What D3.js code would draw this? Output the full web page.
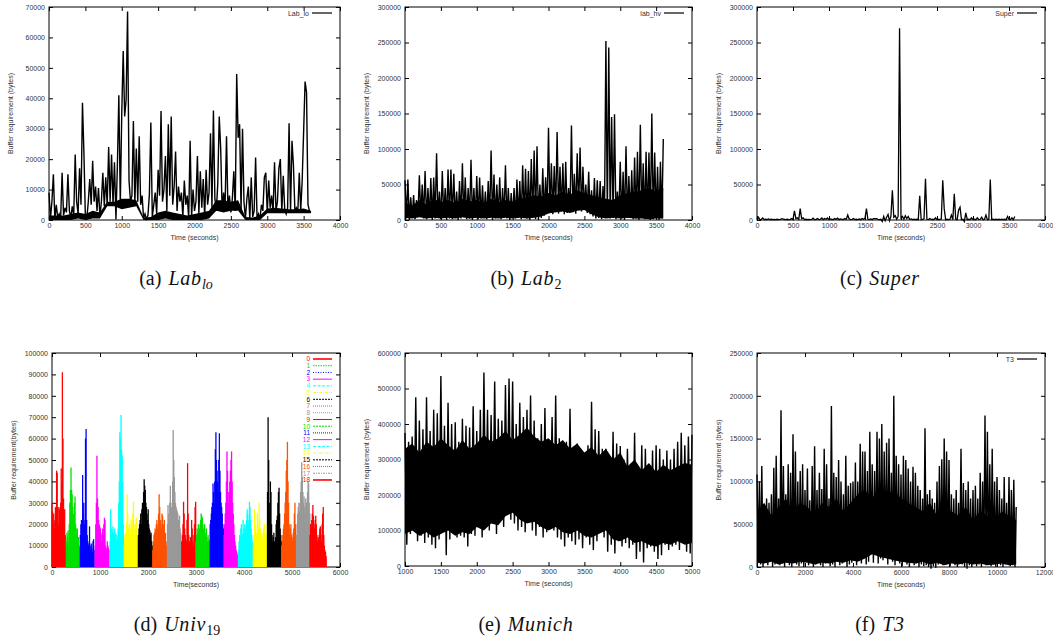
<!DOCTYPE html>
<html>
<head>
<meta charset="utf-8">
<script src="https://cdn.jsdelivr.net/npm/d3@7"></script>
<style>
  body { margin: 0; background: #fff; }
  text { font-family: "Liberation Sans", Arial, sans-serif; }
  .tick text { font-size: 7px; fill: #333; }
  .cap { font-family: "Liberation Serif", "Times New Roman", serif; font-size: 20px; fill: #111; }
</style>
</head>
<body>
<div id="chart"></div>
<script>
// ---- data ----
// (a) Lab_lo, one sample every 20 s from 0 s
var labLoValues = [9000, 500, 6000, 15000, 300, 5000, 800, 2000, 300, 15500,
  1500, 4000, 2500, 15000, 3000, 800, 4500, 1500, 21500, 6000,
  2000, 17000, 5000, 38500, 22000, 1000, 500, 6000, 13500, 5000,
  19500, 6000, 11000, 3000, 10500, 1000, 6000, 15500, 4500, 14000,
  5000, 24000, 6000, 21500, 5000, 19000, 200, 18000, 41000, 5000,
  35000, 55500, 34000, 39500, 68500, 13000, 6000, 8000, 32500, 5000,
  23500, 6000, 27500, 5000, 8000, 500, 2000, 300, 1500, 8500,
  32000, 1000, 5000, 9000, 2000, 16500, 8000, 35800, 6000, 10000,
  21000, 3000, 31500, 8000, 34000, 5000, 11000, 22500, 3000, 11000,
  6000, 9000, 1000, 13000, 5000, 8000, 500, 26000, 1000, 10000,
  3000, 6000, 21000, 2000, 16000, 4000, 13500, 1000, 16500, 5000,
  9000, 28500, 4000, 36000, 7000, 3000, 12000, 34000, 23500, 3000,
  9000, 4000, 27500, 3000, 8000, 2500, 7000, 16000, 3000, 48000,
  27000, 31500, 3000, 30000, 6000, 500, 7000, 11000, 300, 14000,
  1000, 3000, 20500, 500, 2000, 300, 5000, 3000, 14000, 15500,
  2500, 13000, 4000, 8000, 2500, 19000, 3000, 6000, 17000, 20000,
  2500, 14500, 3500, 2000, 4000, 31800, 2500, 26000, 18000, 3000,
  4000, 2500, 15500, 3000, 13000, 29000, 45500, 42000, 5000, 3000,
  2500];
// solid core of the trace, every 100 s from 0 s
var labLoBandTop = [1500, 1500, 1500, 2000, 2500, 2000, 3000, 2500, 6000, 6000,
  7000, 7000, 6500, 800, 1000, 2500, 3000, 2500, 2000, 1500,
  2000, 2500, 3000, 6500, 6500, 6000, 6500, 1000, 800, 1500,
  3800, 4000, 3800, 3500, 3500, 3800, 3000];
var labLoBandBottom = [0, 0, 0, 0, 500, 0, 500, 500, 4500, 4500,
  3500, 4000, 4500, 0, 0, 0, 500, 0, 0, 0,
  0, 0, 500, 3000, 2500, 3000, 3000, 0, 0, 0,
  2200, 2200, 2200, 2200, 2200, 2200, 2200];

// (b) lab_hv, peaks every 40 s from 0 s and troughs every 40 s from 20 s
var labHvHigh = [56000, 57000, 32000, 35000, 28000, 63000, 50000, 69000, 45000, 59000,
  60000, 94000, 40000, 69000, 45000, 71000, 71000, 65000, 40000, 55000,
  80000, 60000, 45000, 85000, 45000, 62000, 60000, 49000, 40000, 55000,
  98000, 64000, 50000, 60000, 45000, 77000, 45000, 38000, 45000, 57000,
  55000, 77000, 72000, 69000, 86000, 98000, 104000, 50000, 73000, 60000,
  130000, 80000, 76000, 124000, 75000, 80000, 82000, 45000, 133000, 65000,
  94000, 102000, 75000, 50000, 68000, 42000, 59000, 56000, 55000, 48000,
  252000, 243000, 145000, 149000, 40000, 82000, 68000, 104000, 62000, 70000,
  88000, 96000, 134000, 80000, 96000, 95000, 150000, 95000, 75000, 82000,
  114000];
var labHvLow = [2000, 0, 3000, 1000, 4000, 5000, 2000, 1000, 3000, 0,
  2000, 4000, 1000, 3000, 0, 2000, 1000, 3000, 0, 2000,
  4000, 1000, 2000, 0, 3000, 1000, 2000, 4000, 1000, 3000,
  0, 2000, 4000, 1000, 3000, 2000, 0, 3000, 2000, 4000,
  1000, 3000, 2000, 0, 4000, 1000, 0, 3000, 6000, 9000,
  10000, 8000, 11000, 9000, 12000, 8000, 10000, 13000, 11000, 9000,
  14000, 12000, 15000, 10000, 8000, 5000, 2000, 3000, 1000, 4000,
  5000, 2000, 3000, 1000, 4000, 2000, 0, 3000, 4000, 1000,
  2000, 0, 3000, 1000, 2000, 0, 1000, 3000, 0, 2000];
// solid core of the trace, every 100 s from 0 s
var labHvBandTop = [25000, 20000, 28000, 22000, 30000, 25000, 28000, 24000, 30000, 26000,
  28000, 24000, 30000, 25000, 28000, 26000, 30000, 32000, 35000, 33000,
  38000, 35000, 40000, 36000, 42000, 38000, 35000, 32000, 30000, 28000,
  35000, 38000, 40000, 42000, 45000, 40000, 45000];
var labHvBandBottom = [3000, 2000, 4000, 2000, 3000, 2000, 3000, 2000, 4000, 2000,
  3000, 2000, 3000, 2000, 3000, 2000, 3000, 2000, 3000, 5000,
  9000, 11000, 12000, 10000, 13000, 14000, 8000, 4000, 2000, 3000,
  2000, 3000, 2000, 2000, 1000, 2000, 2000];

// (c) Super, one sample every 20 s from 0 s
var superValues = [1000, 4000, 500, 1000, 3000, 500, 1000, 500, 1500, 500,
  1000, 500, 800, 500, 1000, 500, 800, 1500, 1500, 1000,
  500, 1000, 500, 1000, 2000, 500, 13000, 2000, 3000, 1000,
  16000, 2000, 3000, 500, 1000, 500, 800, 500, 1000, 2500,
  500, 1000, 2000, 500, 1000, 3000, 500, 2000, 1000, 3000,
  500, 1500, 1000, 500, 2000, 1000, 2500, 500, 1500, 1000,
  500, 2000, 1000, 7000, 1500, 500, 1000, 2000, 500, 1000,
  500, 1500, 500, 2000, 1000, 2500, 16000, 1000, 500, 1500,
  500, 2000, 2000, 2000, 1000, 500, 1000, -2000, 5000, -1000,
  4000, 8000, -1000, 5000, 42000, 4000, 6000, 1000, 5000, 270000,
  3000, 5000, 1000, 6000, 2000, 5000, 1000, 1500, 500, 1000,
  500, 1000, 500, 34000, 500, 1000, 2000, 58000, 1000, 500,
  2000, 500, 1000, 500, 3000, 500, 1000, 500, 1500, 56000,
  16000, 500, 1000, 500, 1000, 7000, 500, 37000, 1000, 500,
  14000, 18000, 500, 1000, -2000, 10000, 500, 1000, 500, 3000,
  500, 1000, 500, 3000, 500, 1000, 4000, 500, 1000, 7000,
  500, 1000, 57000, 500, 1000, 500, 1000, 500, 1000, 500,
  1000, 500, 1000, 500, 5000, 1000, 500, 3000, 500, 5000];

// (d) Univ19, 19 traces, one sample every 12 s from each trace's start
var univLabels = ["0", "1", "2", "3", "4", "5", "6", "7", "8", "9",
  "10", "11", "12", "13", "14", "15", "16", "17", "18"];
var univStarts = [0, 300, 590, 900, 1210, 1505, 1800, 2100, 2405, 2705,
  3000, 3295, 3585, 3885, 4195, 4490, 4785, 5095, 5375];
var univValues = [
  [30000, 26000, 20000, 25000, 18000, 22000, 28000, 20000, 45000, 44000, 28000, 20000, 28000, 27000, 26000, 30000, 46000, 40000, 91000, 60000, 32000, 20000, 27000, 15000, 10000],
  [12000, 16000, 14000, 17000, 10000, 20000, 30000, 36000, 46500, 36000, 34000, 28000, 25000, 22000, 30000, 33000, 20000, 18000, 15000, 18000, 12000, 14000, 10000, 9000, 8000],
  [15000, 20000, 22000, 18000, 43000, 25000, 30000, 20000, 22000, 60000, 64500, 22000, 15000, 12000, 10000, 11000, 19000, 10000, 8000, 11000, 9000, 7000, 12000, 13000, 8000],
  [10000, 20000, 30000, 52000, 32000, 28000, 22000, 20000, 19000, 18000, 15000, 12000, 16000, 18000, 15000, 20000, 23000, 22000, 10000, 9000, 8000, 12000, 10000, 9000, 8000],
  [12000, 27000, 18000, 15000, 17000, 19000, 16000, 14000, 18000, 15000, 16000, 12000, 15000, 14000, 18000, 30000, 40000, 63000, 60000, 71000, 55000, 52000, 40000, 20000, 10000],
  [10000, 15000, 16000, 14000, 20000, 34000, 25000, 18000, 16000, 20000, 18000, 15000, 22000, 18000, 20000, 25000, 30500, 20000, 15000, 18000, 20000, 23000, 15000, 12000, 10000],
  [15000, 18000, 20000, 22000, 25000, 20000, 27000, 30000, 28000, 35000, 41000, 38000, 36000, 30000, 28000, 25000, 22000, 27000, 20000, 18000, 17000, 15000, 16000, 12000, 10000],
  [8000, 12000, 15000, 16000, 18000, 17000, 20000, 22000, 18000, 20000, 25000, 34000, 28000, 22000, 20000, 18000, 25000, 24000, 20000, 18000, 22000, 15000, 16000, 12000, 10000],
  [20000, 29000, 25000, 22000, 30000, 38000, 30000, 28000, 26000, 40000, 64000, 50000, 42000, 35000, 30000, 28000, 27000, 26000, 25000, 22000, 20000, 24000, 18000, 16000, 12000],
  [12000, 15000, 20000, 30500, 25000, 18000, 15000, 13000, 12000, 22000, 48500, 25000, 15000, 12000, 10000, 14000, 13000, 22000, 18000, 12000, 10000, 15000, 20000, 28000, 30500],
  [12000, 15000, 18000, 16000, 20000, 15000, 18000, 20000, 22000, 25000, 24000, 23000, 20000, 18000, 17000, 20000, 15000, 16000, 18000, 14000, 12000, 15000, 13000, 12000, 10000],
  [20000, 22000, 25000, 28000, 30000, 39000, 35000, 30000, 40000, 55000, 63000, 50000, 45000, 40000, 35000, 50000, 62500, 45000, 35000, 30000, 28000, 25000, 20000, 18000, 15000],
  [15000, 20000, 25000, 30000, 40000, 54000, 45000, 35000, 30000, 35000, 40000, 45000, 50000, 54000, 40000, 30000, 25000, 20000, 15000, 12000, 10000, 8000, 7000, 6000, 5000],
  [8000, 12000, 15000, 14000, 18000, 20000, 16000, 15000, 22000, 18000, 20000, 16000, 18000, 20000, 22000, 27000, 25000, 20000, 22000, 30500, 28000, 22000, 18000, 15000, 12000],
  [10000, 15000, 27000, 20000, 18000, 16000, 15000, 25000, 20000, 18000, 30000, 22000, 18000, 15000, 14000, 16000, 12000, 15000, 18000, 20000, 16000, 14000, 12000, 15000, 20000],
  [35000, 70000, 50000, 30000, 25000, 40000, 35000, 20000, 15000, 12000, 14000, 16000, 12000, 10000, 14000, 20000, 22000, 24000, 30000, 35000, 37000, 25000, 18000, 15000, 12000],
  [10000, 12000, 15000, 18000, 20000, 25000, 30000, 35000, 45000, 50000, 58500, 40000, 30000, 20000, 15000, 18000, 20000, 15000, 14000, 12000, 16000, 18000, 25000, 30000, 20000],
  [15000, 20000, 25000, 28000, 30000, 26000, 30000, 35000, 40000, 49000, 42000, 35000, 30000, 33000, 28000, 25000, 32000, 30000, 28000, 35000, 40000, 39000, 30000, 25000, 20000],
  [15000, 20000, 18000, 22000, 25000, 29000, 24000, 20000, 18000, 22000, 24000, 20000, 15000, 12000, 14000, 13000, 15000, 18000, 19000, 15000, 12000, 20000, 25000, 28000, 15000, 10000, 8000, 7000, 5000]
];

// (e) Munich, peaks every 50 s from 1000 s, troughs every 50 s from 1025 s
var munichHigh = [375000, 350000, 365000, 475000, 410000, 385000, 475000, 380000, 440000, 430000,
  535000, 395000, 460000, 400000, 405000, 350000, 415000, 395000, 390000, 450000,
  380000, 440000, 545000, 440000, 425000, 520000, 415000, 410000, 510000, 528000,
  520000, 400000, 460000, 420000, 440000, 480000, 410000, 360000, 400000, 445000,
  350000, 420000, 480000, 360000, 330000, 350000, 443000, 320000, 345000, 300000,
  280000, 340000, 463000, 385000, 380000, 330000, 330000, 310000, 378000, 345000,
  338000, 300000, 330000, 260000, 375000, 250000, 340000, 330000, 260000, 325000,
  340000, 330000, 300000, 325000, 300000, 330000, 350000, 375000, 340000, 365000,
  370000];
var munichLow = [60000, 90000, 110000, 70000, 85000, 65000, 80000, 60000, 50000, 75000,
  100000, 30000, 75000, 90000, 80000, 85000, 80000, 55000, 90000, 85000,
  110000, 80000, 130000, 100000, 125000, 90000, 135000, 110000, 160000, 130000,
  120000, 100000, 110000, 95000, 130000, 100000, 85000, 110000, 80000, 95000,
  130000, 100000, 80000, 75000, 55000, 80000, 70000, 60000, 75000, 50000,
  80000, 60000, 45000, 70000, 110000, 80000, 40000, 60000, 35000, 70000,
  55000, 65000, 50000, 60000, 20000, 40000, 10000, 50000, 55000, 40000,
  20000, 30000, 60000, 45000, 55000, 60000, 45000, 90000, 40000, 35000];
// solid core of the trace, every 100 s from 1000 s
var munichBandTop = [330000, 345000, 320000, 350000, 335000, 360000, 340000, 325000, 355000, 330000,
  345000, 370000, 350000, 360000, 380000, 355000, 370000, 390000, 365000, 350000,
  360000, 340000, 355000, 330000, 345000, 320000, 335000, 310000, 330000, 300000,
  320000, 280000, 300000, 270000, 290000, 265000, 285000, 270000, 280000, 290000,
  285000];
var munichBandBottom = [90000, 100000, 85000, 95000, 80000, 90000, 100000, 85000, 95000, 90000,
  110000, 100000, 120000, 115000, 140000, 150000, 130000, 120000, 125000, 110000,
  100000, 110000, 95000, 90000, 100000, 85000, 80000, 90000, 100000, 75000,
  70000, 80000, 65000, 70000, 60000, 55000, 65000, 60000, 70000, 60000,
  65000];

// (f) T3, peaks every 100 s from 0 s, troughs every 100 s from 50 s
var t3High = [108000, 100000, 118000, 60000, 80000, 75000, 85000, 116000, 130000, 80000,
  183000, 118000, 85000, 120000, 110000, 155000, 135000, 100000, 112000, 120000,
  90000, 115000, 78000, 118000, 141000, 90000, 110000, 91000, 138000, 120000,
  80000, 188000, 110000, 105000, 125000, 100000, 85000, 130000, 95000, 98000,
  100000, 122000, 100000, 144000, 135000, 135000, 112000, 158000, 120000, 112000,
  158000, 150000, 167000, 135000, 145000, 150000, 110000, 200000, 130000, 120000,
  108000, 130000, 125000, 115000, 100000, 117000, 110000, 95000, 90000, 80000,
  162000, 85000, 90000, 80000, 75000, 100000, 118000, 126000, 150000, 135000,
  125000, 85000, 80000, 90000, 75000, 138000, 98000, 90000, 100000, 80000,
  90000, 95000, 80000, 110000, 100000, 177000, 158000, 120000, 138000, 100000,
  105000, 90000, 80000, 105000, 75000, 105000, 90000, 102000, 70000];
var t3Low = [12000, 3000, 0, 5000, 2000, 8000, 0, 3000, 10000, 2000,
  4000, 0, 6000, 2000, 0, 5000, 3000, 1000, 4000, 0,
  8000, 2000, 5000, 0, 3000, 12000, 2000, 0, 4000, 7000,
  1000, 3000, 0, 6000, 2000, 4000, 10000, 0, 3000, 5000,
  8000, 2000, 12000, 4000, 15000, 3000, 6000, 18000, 5000, 20000,
  4000, 10000, 8000, 14000, 3000, 12000, 6000, 2000, 9000, 4000,
  1000, 6000, 3000, 0, 5000, 2000, 4000, 0, 3000, 1000,
  2000, 0, -2000, 1000, -1000, 3000, 6000, 2000, 8000, 4000,
  1000, 5000, 2000, 0, 10000, 3000, 0, -2000, 2000, 0,
  4000, 1000, 3000, 0, 6000, 2000, 5000, 1000, 3000, 0,
  4000, 2000, 0, 3000, 5000, 1000, 2000, 0];
// solid core of the trace, every 300 s from 0 s
var t3BandTop = [65000, 75000, 60000, 70000, 80000, 65000, 75000, 70000, 60000, 75000,
  70000, 80000, 65000, 75000, 85000, 90000, 80000, 95000, 85000, 90000,
  80000, 75000, 70000, 65000, 75000, 60000, 70000, 65000, 60000, 70000,
  55000, 65000, 60000, 55000, 65000, 60000, 55000];
var t3BandBottom = [5000, 4000, 6000, 3000, 5000, 4000, 6000, 5000, 3000, 5000,
  4000, 6000, 5000, 8000, 6000, 10000, 15000, 12000, 10000, 8000,
  6000, 5000, 4000, 6000, 3000, 5000, 2000, 4000, 3000, 5000,
  3000, 4000, 2000, 3000, 4000, 2000, 3000];

var captionTags = ["(a)", "(b)", "(c)", "(d)", "(e)", "(f)"];
var captionNames = ["Lab", "Lab", "Super", "Univ", "Munich", "T3"];
var captionSubs = ["lo", "2", "", "19", "", ""];

// ---- drawing ----
var svgWidth = 1053;
var svgHeight = 641;

var svg = d3.select("#chart")
  .append("svg")
  .attr("width", svgWidth)
  .attr("height", svgHeight);

var fmt = d3.format("d");

// one gnuplot-style frame with mirrored inward ticks
function panel(o) {
  var g = svg.append("g");
  var x = d3.scaleLinear().domain(o.xd).range([o.x0, o.x1]);
  var y = d3.scaleLinear().domain(o.yd).range([o.y1, o.y0]);
  var xt = d3.range(o.xd[0], o.xd[1] + 1, o.xs);
  var yt = d3.range(o.yd[0], o.yd[1] + 1, o.ys);

  g.append("g").attr("transform", `translate(0,${o.y1})`)
    .call(d3.axisBottom(x).tickValues(xt).tickFormat(fmt).tickSizeInner(-4).tickSizeOuter(0).tickPadding(3));
  g.append("g").attr("transform", `translate(0,${o.y0})`)
    .call(d3.axisTop(x).tickValues(xt).tickFormat("").tickSizeInner(-4).tickSizeOuter(0));
  g.append("g").attr("transform", `translate(${o.x0},0)`)
    .call(d3.axisLeft(y).tickValues(yt).tickFormat(fmt).tickSizeInner(-4).tickSizeOuter(0).tickPadding(4));
  g.append("g").attr("transform", `translate(${o.x1},0)`)
    .call(d3.axisRight(y).tickValues(yt).tickFormat("").tickSizeInner(-4).tickSizeOuter(0));
  g.selectAll(".domain").remove();
  g.selectAll(".tick line").attr("stroke", "#000");

  g.append("rect")
    .attr("x", o.x0).attr("y", o.y0)
    .attr("width", o.x1 - o.x0).attr("height", o.y1 - o.y0)
    .attr("fill", "none").attr("stroke", "#000").attr("stroke-width", 1);

  // axis titles
  g.append("text")
    .attr("x", (o.x0 + o.x1) / 2).attr("y", o.y1 + 20)
    .attr("text-anchor", "middle").style("font-size", "7px").style("fill", "#333")
    .text(o.xl);
  g.append("text")
    .attr("transform", `translate(${o.x0 - 36},${(o.y0 + o.y1) / 2}) rotate(-90)`)
    .attr("text-anchor", "middle").style("font-size", "7px").style("fill", "#333")
    .text(o.yl);

  // key
  if (o.key) {
    g.append("text")
      .attr("x", o.x1 - 31).attr("y", o.y0 + 8.5)
      .attr("text-anchor", "end").style("font-size", "7px").style("fill", "#333")
      .text(o.key);
    g.append("line")
      .attr("x1", o.x1 - 28).attr("x2", o.x1 - 8)
      .attr("y1", o.y0 + 6).attr("y2", o.y0 + 6)
      .attr("stroke", "#000").attr("stroke-width", 1.2);
  }
  return { g: g, x: x, y: y };
}

function drawLine(p, pts, color, w) {
  var line = d3.line().x(d => p.x(d[0])).y(d => p.y(d[1]));
  p.g.append("path")
    .datum(pts)
    .attr("d", line)
    .attr("fill", "none")
    .attr("stroke", color)
    .attr("stroke-width", w)
    .attr("stroke-linejoin", "miter");
}

// the solid black core of a dense trace
function drawBand(p, top, bottom, t0, step) {
  var area = d3.area()
    .x((d, i) => p.x(t0 + i * step))
    .y0((d, i) => p.y(bottom[i]))
    .y1(d => p.y(d));
  p.g.append("path")
    .datum(top)
    .attr("d", area)
    .attr("fill", "#000");
}

// regular samples
function series(vals, t0, step) {
  return vals.map((v, i) => [t0 + i * step, v]);
}
// peaks and troughs woven together
function weave(high, low, t0, step) {
  var pts = [];
  high.forEach(function(v, i) {
    pts.push([t0 + i * step, v]);
    if (i < low.length) pts.push([t0 + i * step + step / 2, low[i]]);
  });
  return pts;
}

var yTitle = "Buffer requirement (bytes)";
var xTitle = "Time (seconds)";

// (a)
var pa = panel({ x0: 49, x1: 340, y0: 7, y1: 220, xd: [0, 4000], xs: 500, yd: [0, 70000], ys: 10000,
  xl: xTitle, yl: yTitle, key: "Lab_lo" });
drawBand(pa, labLoBandTop, labLoBandBottom, 0, 100);
drawLine(pa, series(labLoValues, 0, 20), "#000", 1.4);

// (b)
var pb = panel({ x0: 405, x1: 692, y0: 7, y1: 220, xd: [0, 4000], xs: 500, yd: [0, 300000], ys: 50000,
  xl: xTitle, yl: yTitle, key: "lab_hv" });
drawBand(pb, labHvBandTop, labHvBandBottom, 0, 100);
drawLine(pb, weave(labHvHigh, labHvLow, 0, 40), "#000", 1.4);

// (c)
var pc = panel({ x0: 757, x1: 1045, y0: 7, y1: 220, xd: [0, 4000], xs: 500, yd: [0, 300000], ys: 50000,
  xl: xTitle, yl: yTitle, key: "Super" });
drawLine(pc, series(superValues, 0, 20), "#000", 1.3);

// (d)
var pd = panel({ x0: 52, x1: 340, y0: 353, y1: 567, xd: [0, 6000], xs: 1000, yd: [0, 100000], ys: 10000,
  xl: "Time(seconds)", yl: "Buffer requirement(bytes)" });
var univColors = ["#ff0000", "#00e000", "#0000ff", "#ff00ff", "#00ffff", "#ffff00", "#000000", "#ff5000", "#999999"];
var univDash = ["none", "1.5,1", "1,1.5", "none", "3,1.5", "3,1,1,1", "2,1", "1,1", "1,1",
  "none", "2,1", "1,1", "none", "3,1.5", "3,1,1,1", "2,1", "1,1", "2,1,1,1", "none"];
univValues.forEach(function(vals, k) {
  var col = univColors[k % 9];
  pd.g.append("g").selectAll("line")
    .data(series(vals, univStarts[k], 12))
    .enter()
    .append("line")
    .attr("x1", d => pd.x(d[0])).attr("x2", d => pd.x(d[0]))
    .attr("y1", pd.y(0)).attr("y2", d => pd.y(d[1]))
    .attr("stroke", col)
    .attr("stroke-width", 1.3);
});
var keyG = pd.g.append("g");
univLabels.forEach(function(lab, k) {
  var yy = 359 + k * 6.72;
  var col = univColors[k % 9];
  keyG.append("text")
    .attr("x", 310).attr("y", yy + 2.3)
    .attr("text-anchor", "end")
    .style("font-size", "6.5px")
    .style("fill", col)
    .text(lab);
  keyG.append("line")
    .attr("x1", 313).attr("x2", 332)
    .attr("y1", yy).attr("y2", yy)
    .attr("stroke", col)
    .attr("stroke-width", (k === 0 || k === 18) ? 1.6 : 1)
    .attr("stroke-dasharray", univDash[k]);
});

// (e)
var pe = panel({ x0: 405, x1: 692, y0: 353, y1: 566, xd: [1000, 5000], xs: 500, yd: [0, 600000], ys: 100000,
  xl: xTitle, yl: yTitle });
drawBand(pe, munichBandTop, munichBandBottom, 1000, 100);
drawLine(pe, weave(munichHigh, munichLow, 1000, 50), "#000", 1.4);

// (f)
var pf = panel({ x0: 757, x1: 1045, y0: 353, y1: 567, xd: [0, 12000], xs: 2000, yd: [0, 250000], ys: 50000,
  xl: xTitle, yl: yTitle, key: "T3" });
drawBand(pf, t3BandTop, t3BandBottom, 0, 300);
drawLine(pf, weave(t3High, t3Low, 0, 100), "#000", 1.4);

// captions
var capX = [176, 526, 880, 177, 526, 880];
var capY = [285, 285, 285, 631, 631, 631];
captionTags.forEach(function(tag, i) {
  var t = svg.append("text")
    .attr("class", "cap")
    .attr("x", capX[i]).attr("y", capY[i])
    .attr("text-anchor", "middle");
  t.append("tspan").text(tag);
  t.append("tspan")
    .attr("dx", 7)
    .style("font-style", "italic")
    .style("letter-spacing", "0.8px")
    .text(captionNames[i]);
  if (captionSubs[i]) {
    t.append("tspan")
      .attr("dy", 4)
      .style("font-size", "14px")
      .style("font-style", i === 0 ? "italic" : "normal")
      .text(captionSubs[i]);
  }
});
</script>
</body>
</html>
